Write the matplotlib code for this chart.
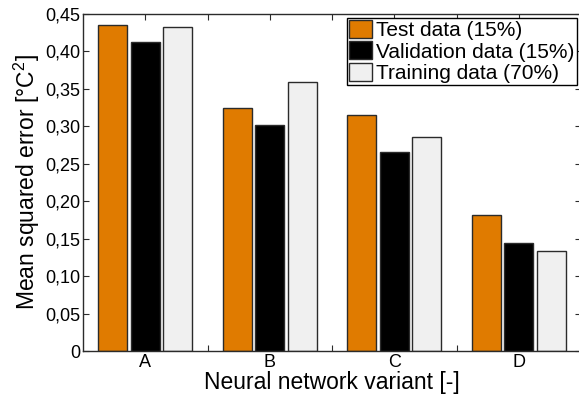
import numpy as np
import matplotlib
matplotlib.use("Agg")
import matplotlib.pyplot as plt

plt.rcParams['font.family'] = ['Liberation Sans', 'DejaVu Sans']
plt.rcParams['mathtext.fontset'] = 'custom'
plt.rcParams['mathtext.rm'] = 'Liberation Sans'

variants = ['A', 'B', 'C', 'D']
test = [0.435, 0.324, 0.315, 0.182]        # test data (15%)
validation = [0.412, 0.302, 0.266, 0.144]  # validation data (15%)
training = [0.433, 0.359, 0.286, 0.134]    # training data (70%)
series_names = ['Test data (15%)', 'Validation data (15%)', 'Training data (70%)']
yticks = [0, 0.05, 0.10, 0.15, 0.20, 0.25, 0.30, 0.35, 0.40, 0.45]
ytick_labels = ['0', '0,05', '0,10', '0,15', '0,20', '0,25', '0,30', '0,35', '0,40', '0,45']

colors = ['#e07b00', '#000000', '#f0f0f0']
edge = '#2b2b2b'

fig = plt.figure(figsize=(5.79, 3.96), dpi=100)
ax = fig.add_axes([83/579, 45/396, 498/579, 337/396])

x = np.arange(1, len(variants) + 1)
offset = 0.262
width = 0.235
for i, vals in enumerate([test, validation, training]):
    ax.bar(x + (i - 1) * offset, vals, width, color=colors[i], edgecolor=edge,
           linewidth=1.0, label=series_names[i], zorder=2)

ax.set_xlim(0.5, 4.5)
ax.set_ylim(0, 0.45)
ax.set_yticks(yticks)
ax.set_yticklabels(ytick_labels)
xt = np.arange(1, 4.01, 0.5)
ax.set_xticks(xt)
ax.set_xticklabels([variants[int(t) - 1] if t == int(t) else '' for t in xt])

ax.tick_params(direction='in', top=True, right=True, length=4, width=0.8,
               color=edge, labelsize=13)
ax.tick_params(axis='y', pad=2)
ax.tick_params(axis='x', pad=2.5)
for s in ax.spines.values():
    s.set_color(edge)
    s.set_linewidth(1.0)

ax.set_xlabel('Neural network variant [-]', fontsize=16.5)
ax.set_ylabel(r'Mean squared error [°C$^{2}$]', fontsize=16.5)
ax.xaxis.set_label_coords(0.5, -0.059)
ax.yaxis.set_label_coords(-0.082, 0.5)

leg = ax.legend(loc='upper right', fontsize=15, frameon=True, fancybox=False,
                edgecolor='black', framealpha=1, borderaxespad=0.2,
                handlelength=1.1, handleheight=0.95, handletextpad=0.2,
                labelspacing=0.05, borderpad=0.1)
leg.get_frame().set_linewidth(1.0)

fig.savefig('out.png', dpi=100)
